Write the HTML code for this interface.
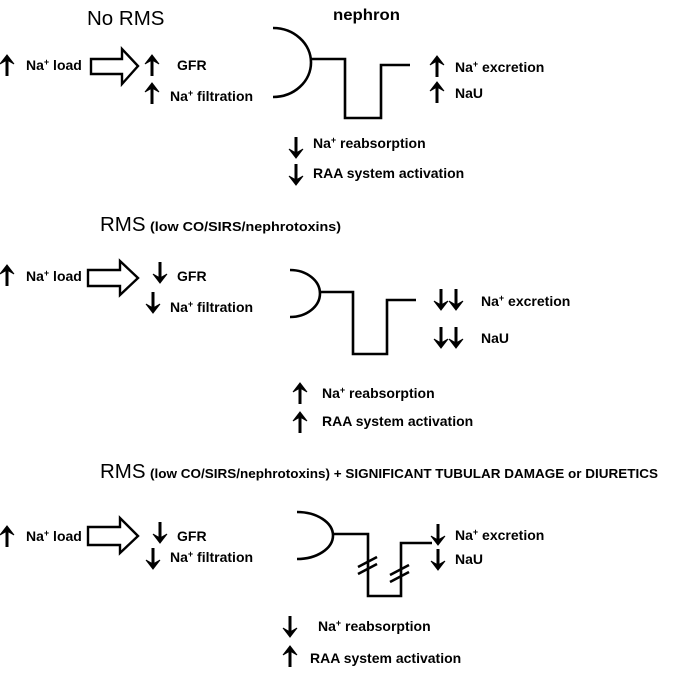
<!DOCTYPE html>
<html><head><meta charset="utf-8"><style>
html,body{margin:0;padding:0;background:#fff}
svg{display:block}
text{font-family:"Liberation Sans",sans-serif;fill:#000}
.b{font-weight:bold;font-size:14px}
.t{font-size:20.5px}
.s{font-weight:bold;font-size:12.5px}
</style></head><body>
<svg width="675" height="675" viewBox="0 0 675 675" xmlns="http://www.w3.org/2000/svg">
<defs>
<g id="up"><line x1="0" y1="4" x2="0" y2="21" stroke="#000" stroke-width="3"/><path d="M-7,9 L0,0 L7,9 L0,5 Z" fill="#000" stroke="#000" stroke-width="1"/></g>
<g id="dn"><line x1="0" y1="0" x2="0" y2="17" stroke="#000" stroke-width="3"/><path d="M-7,12 L0,21 L7,12 L0,16 Z" fill="#000" stroke="#000" stroke-width="1"/></g>
</defs>
<g fill="none" stroke="#000" stroke-width="2.6">
<path d="M273,28 A38,34.5 0 0 1 273,97"/>
<path d="M311,59 H345 V118 H381 V65 H410"/>
<path d="M290,270 A30,23.5 0 0 1 290,317"/>
<path d="M320,292 H353 V354 H387 V300 H416"/>
<path d="M297,512 A36,23.5 0 0 1 297,559"/>
<path d="M333,534 H368 V596 H401 V543 H432"/>
<path d="M358,567 L377,557 M358,574 L377,564"/>
<path d="M390,575 L409,565 M390,582 L409,572"/>
<path d="M91,59 H122 V49 L138,66 L122,84 V74 H91 Z" stroke-width="2.4"/>
<path d="M88,270 H120 V261 L138,278 L120,295 V286 H88 Z" stroke-width="2.4"/>
<path d="M88,527 H120 V518 L138,536 L120,553 V545 H88 Z" stroke-width="2.4"/>
</g>

<text x="87" y="25" class="t">No RMS</text>
<text x="333" y="20" class="b" font-size="16" textLength="67" lengthAdjust="spacingAndGlyphs" style="font-size:16px">nephron</text>
<use href="#up" x="7" y="55"/>
<text x="26" y="70" class="b">Na<tspan dy="-5" font-size="9">+</tspan><tspan dy="5"> load</tspan></text>
<use href="#up" x="152" y="55"/>
<text x="177" y="70" class="b">GFR</text>
<use href="#up" x="152" y="83"/>
<text x="170" y="101" class="b">Na<tspan dy="-5" font-size="9">+</tspan><tspan dy="5"> filtration</tspan></text>
<use href="#up" x="437" y="56"/>
<text x="455" y="72" class="b">Na<tspan dy="-5" font-size="9">+</tspan><tspan dy="5"> excretion</tspan></text>
<use href="#up" x="437" y="82"/>
<text x="455" y="98" class="b">NaU</text>
<use href="#dn" x="296" y="137"/>
<text x="313" y="148" class="b">Na<tspan dy="-5" font-size="9">+</tspan><tspan dy="5"> reabsorption</tspan></text>
<use href="#dn" x="296" y="164"/>
<text x="313" y="178" class="b">RAA system activation</text>

<text x="100" y="231" class="t">RMS</text>
<text x="150" y="231" class="s" textLength="191" lengthAdjust="spacingAndGlyphs">(low CO/SIRS/nephrotoxins)</text>
<use href="#up" x="7" y="265"/>
<text x="26" y="281" class="b">Na<tspan dy="-5" font-size="9">+</tspan><tspan dy="5"> load</tspan></text>
<use href="#dn" x="160" y="262"/>
<text x="177" y="281" class="b">GFR</text>
<use href="#dn" x="153" y="292"/>
<text x="170" y="312" class="b">Na<tspan dy="-5" font-size="9">+</tspan><tspan dy="5"> filtration</tspan></text>
<use href="#dn" x="441" y="289"/>
<use href="#dn" x="456" y="289"/>
<text x="481" y="306" class="b">Na<tspan dy="-5" font-size="9">+</tspan><tspan dy="5"> excretion</tspan></text>
<use href="#dn" x="441" y="327"/>
<use href="#dn" x="456" y="327"/>
<text x="481" y="343" class="b">NaU</text>
<use href="#up" x="300" y="383"/>
<text x="322" y="398" class="b">Na<tspan dy="-5" font-size="9">+</tspan><tspan dy="5"> reabsorption</tspan></text>
<use href="#up" x="300" y="412"/>
<text x="322" y="426" class="b">RAA system activation</text>

<text x="100" y="478" class="t">RMS</text>
<text x="150" y="478" class="s" textLength="508" lengthAdjust="spacingAndGlyphs">(low CO/SIRS/nephrotoxins) + SIGNIFICANT TUBULAR DAMAGE or DIURETICS</text>
<use href="#up" x="7" y="526"/>
<text x="26" y="541" class="b">Na<tspan dy="-5" font-size="9">+</tspan><tspan dy="5"> load</tspan></text>
<use href="#dn" x="160" y="522"/>
<text x="177" y="541" class="b">GFR</text>
<use href="#dn" x="153" y="548"/>
<text x="170" y="562" class="b">Na<tspan dy="-5" font-size="9">+</tspan><tspan dy="5"> filtration</tspan></text>
<use href="#dn" x="438" y="524"/>
<text x="455" y="540" class="b">Na<tspan dy="-5" font-size="9">+</tspan><tspan dy="5"> excretion</tspan></text>
<use href="#dn" x="438" y="549"/>
<text x="455" y="564" class="b">NaU</text>
<use href="#dn" x="290" y="616"/>
<text x="318" y="631" class="b">Na<tspan dy="-5" font-size="9">+</tspan><tspan dy="5"> reabsorption</tspan></text>
<use href="#up" x="290" y="646"/>
<text x="310" y="663" class="b">RAA system activation</text>
</svg>
</body></html>
